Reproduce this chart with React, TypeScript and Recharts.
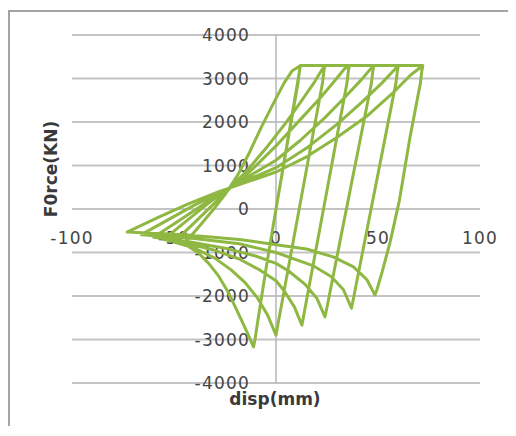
import React from 'react';
import { LineChart, Line, XAxis, YAxis, ReferenceLine } from 'recharts';

// ---- data (disp in mm, force in kN) ----
const startDisp = [0];
const startForce = [0];

const cycle1Disp = [12, 11.5, 10.8, 5, 0, -5, -9, -10.3, -11, -15, -19, -23, -28, -33, -38, -45, -38, -31, -25, -19, -13, -7, -1, 4, 8, 12];
const cycle1Force = [3300, 3180, 2900, 1350, 0, -1400, -2600, -3000, -3170, -2750, -2350, -1950, -1550, -1250, -1010, -800, -420, -30, 330, 760, 1300, 1900, 2450, 2900, 3180, 3300];

const cycle2Disp = [24, 23.5, 22.8, 17, 12, 7, 3, 1, 0, -4, -9, -15, -22, -30, -40, -50, -41, -32, -22, -13, -4, 5, 13, 19, 22.5, 24];
const cycle2Force = [3300, 3180, 2900, 1430, 160, -1110, -2130, -2640, -2900, -2450, -2050, -1700, -1400, -1130, -900, -760, -360, 50, 500, 950, 1450, 1990, 2520, 2930, 3200, 3300];

const cycle3Disp = [36, 35.5, 34.8, 29, 24, 19, 15.5, 13.5, 12.7, 9, 4, 0, -8, -18, -30, -42, -55, -44, -34, -23, -13, 0, 12, 22, 29, 33.5, 36];
const cycle3Force = [3300, 3180, 2900, 1440, 180, -1080, -1960, -2470, -2670, -2250, -1880, -1650, -1400, -1150, -950, -810, -700, -280, 100, 480, 850, 1450, 2060, 2570, 2960, 3220, 3300];

const cycle4Disp = [48, 47.5, 46.8, 41, 36, 31, 27, 25, 24, 20, 14, 6, 0, -10, -25, -42, -60, -48, -36, -24, -13, 0, 12, 24, 34, 42, 46, 48];
const cycle4Force = [3300, 3180, 2900, 1530, 350, -830, -1780, -2260, -2480, -2050, -1720, -1420, -1250, -1080, -900, -760, -650, -280, 90, 440, 760, 1120, 1580, 2100, 2580, 2980, 3200, 3300];

const cycle5Disp = [60, 59.5, 58.8, 53, 48.5, 44, 40, 38, 37, 33, 27, 18, 0, -18, -40, -66, -53, -40, -26, -13, 0, 15, 30, 42, 52, 57, 60];
const cycle5Force = [3300, 3180, 2900, 1520, 450, -620, -1570, -2050, -2280, -1850, -1550, -1300, -1000, -800, -680, -590, -250, 90, 410, 690, 950, 1400, 1950, 2450, 2900, 3150, 3300];

const cycle6Disp = [72, 71.5, 70.8, 65.5, 60.5, 56, 52, 49.5, 48.5, 44.5, 38, 28, 15, 0, -18, -45, -73, -58, -43, -28, -13, 0, 15, 30, 45, 58, 66, 72];
const cycle6Force = [3300, 3180, 2900, 1600, 200, -750, -1450, -1850, -1977, -1620, -1330, -1100, -920, -820, -700, -590, -530, -200, 120, 400, 640, 850, 1200, 1650, 2150, 2700, 3080, 3300];

const xTicks = [-100, -50, 0, 50, 100];
const yTicks = [4000, 3000, 2000, 1000, 0, -1000, -2000, -3000, -4000];

const xTitle = 'disp(mm)';
const yTitle = 'F0rce(KN)';

const segments: [number[], number[]][] = [
  [startDisp, startForce],
  [cycle1Disp, cycle1Force],
  [cycle2Disp, cycle2Force],
  [cycle3Disp, cycle3Force],
  [cycle4Disp, cycle4Force],
  [cycle5Disp, cycle5Force],
  [cycle6Disp, cycle6Force],
];

const data = segments.flatMap(([xs, ys]) => xs.map((x, i) => ({ x, y: ys[i] })));

const LINE_COLOR = '#8fb843';
const GRID_COLOR = '#c4c4c4';
const AXIS_COLOR = '#b4b4c2';
const TEXT_COLOR = '#454545';
const FONT = '"DejaVu Sans", Verdana, sans-serif';

const makeYLabel = (value: string) => (props: any) => {
  const vb = props.viewBox || {};
  const cx = vb.x + vb.width / 2;
  return (
    <text
      x={cx - 26}
      y={vb.y}
      dy={6}
      textAnchor="end"
      fontFamily={FONT}
      fontSize={17}
      letterSpacing={1.2}
      fill={TEXT_COLOR}
    >
      {value}
    </text>
  );
};

const makeXLabel = (value: string) => (props: any) => {
  const vb = props.viewBox || {};
  const cy = vb.y + vb.height / 2;
  return (
    <text
      x={vb.x}
      y={cy + 35}
      textAnchor="middle"
      fontFamily={FONT}
      fontSize={17}
      letterSpacing={1.2}
      fill={TEXT_COLOR}
    >
      {value}
    </text>
  );
};

export default function App() {
  return (
    <div
      style={{
        position: 'relative',
        top: 2,
        width: 506,
        height: 418,
        boxSizing: 'border-box',
        borderLeft: '2px solid #a4a4a4',
        borderTop: '2px solid #a4a4a4',
        background: '#fff',
      }}
    >
      <LineChart
        width={504}
        height={416}
        data={data}
        margin={{ top: 23, left: 62, right: 34, bottom: 45 }}
      >
        <XAxis dataKey="x" type="number" domain={[-100, 100]} hide allowDataOverflow />
        <YAxis type="number" domain={[-4000, 4000]} hide allowDataOverflow />
        {yTicks.map((v) => (
          <ReferenceLine
            key={'y' + v}
            y={v}
            stroke={GRID_COLOR}
            strokeWidth={1.8}
            label={makeYLabel(String(v))}
          />
        ))}
        {xTicks.map((v) => (
          <ReferenceLine
            key={'x' + v}
            x={v}
            stroke={v === 0 ? AXIS_COLOR : 'none'}
            strokeWidth={1.5}
            label={makeXLabel(String(v))}
          />
        ))}
        <Line
          dataKey="y"
          type="linear"
          stroke={LINE_COLOR}
          strokeWidth={3}
          strokeLinejoin="round"
          dot={false}
          activeDot={false}
          isAnimationActive={false}
        />
      </LineChart>
      <div
        style={{
          position: 'absolute',
          left: 41,
          top: 157,
          transform: 'translate(-50%, -50%) rotate(-90deg)',
          fontFamily: FONT,
          fontWeight: 'bold',
          fontSize: 17,
          lineHeight: 1,
          color: '#3a3a3a',
          whiteSpace: 'nowrap',
        }}
      >
        {yTitle}
      </div>
      <div
        style={{
          position: 'absolute',
          left: 265,
          top: 387,
          transform: 'translate(-50%, -50%)',
          fontFamily: FONT,
          fontWeight: 'bold',
          fontSize: 17,
          lineHeight: 1,
          color: '#3a3a3a',
          whiteSpace: 'nowrap',
        }}
      >
        {xTitle}
      </div>
    </div>
  );
}
